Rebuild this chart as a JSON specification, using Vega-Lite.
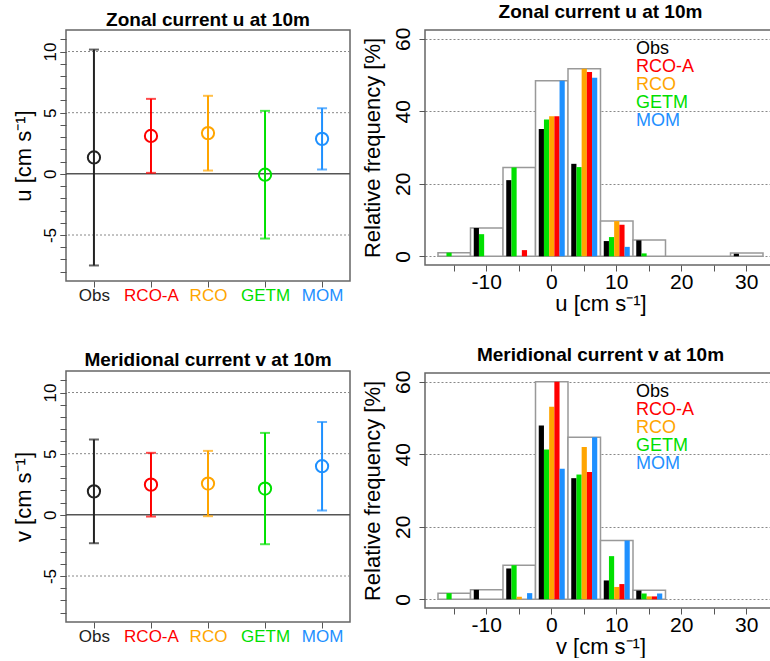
{
  "$schema": "https://vega.github.io/schema/vega-lite/v6.json",
  "padding": {"left": 11, "top": 2, "right": 0, "bottom": 0},
  "background": "white",
  "config": {
    "font": "Liberation Sans",
    "view": {"stroke": "#666666", "strokeWidth": 1.5},
    "title": {"fontSize": 19, "fontWeight": "bold", "font": "Liberation Sans", "color": "#000000", "frame": "group", "anchor": "middle"},
    "axis": {"domain": false, "tickColor": "#555555", "tickWidth": 1, "tickSize": 6, "titleColor": "#000000", "titleFontWeight": "normal", "labelFont": "Liberation Sans", "titleFont": "Liberation Sans", "labelOverlap": false}
  },
  "datasets": {
    "stats": [
      {"var": "u", "model": "Obs", "mean": 1.34, "lo": -7.49, "hi": 10.16},
      {"var": "u", "model": "RCO-A", "mean": 3.1, "lo": 0.08, "hi": 6.13},
      {"var": "u", "model": "RCO", "mean": 3.33, "lo": 0.27, "hi": 6.38},
      {"var": "u", "model": "GETM", "mean": -0.07, "lo": -5.29, "hi": 5.15},
      {"var": "u", "model": "MOM", "mean": 2.86, "lo": 0.35, "hi": 5.37},
      {"var": "v", "model": "Obs", "mean": 1.92, "lo": -2.32, "hi": 6.16},
      {"var": "v", "model": "RCO-A", "mean": 2.47, "lo": -0.14, "hi": 5.07},
      {"var": "v", "model": "RCO", "mean": 2.56, "lo": -0.11, "hi": 5.23},
      {"var": "v", "model": "GETM", "mean": 2.15, "lo": -2.4, "hi": 6.7},
      {"var": "v", "model": "MOM", "mean": 3.98, "lo": 0.35, "hi": 7.6}
    ],
    "box": [
      {"var": "u", "bin": -15, "pct": 1.0},
      {"var": "u", "bin": -10, "pct": 7.8},
      {"var": "u", "bin": -5, "pct": 24.5},
      {"var": "u", "bin": 0, "pct": 48.4},
      {"var": "u", "bin": 5, "pct": 51.7},
      {"var": "u", "bin": 10, "pct": 9.7},
      {"var": "u", "bin": 15, "pct": 4.5},
      {"var": "u", "bin": 20, "pct": 0},
      {"var": "u", "bin": 25, "pct": 0},
      {"var": "u", "bin": 30, "pct": 0.9},
      {"var": "v", "bin": -15, "pct": 1.7},
      {"var": "v", "bin": -10, "pct": 2.6},
      {"var": "v", "bin": -5, "pct": 9.4},
      {"var": "v", "bin": 0, "pct": 60},
      {"var": "v", "bin": 5, "pct": 44.7},
      {"var": "v", "bin": 10, "pct": 16.2},
      {"var": "v", "bin": 15, "pct": 2.5}
    ],
    "hist": [
      {"var": "u", "bin": -15, "model": "GETM", "pct": 1.0},
      {"var": "u", "bin": -10, "model": "Obs", "pct": 7.8},
      {"var": "u", "bin": -10, "model": "GETM", "pct": 6.1},
      {"var": "u", "bin": -5, "model": "Obs", "pct": 21.0},
      {"var": "u", "bin": -5, "model": "GETM", "pct": 24.5},
      {"var": "u", "bin": -5, "model": "RCO-A", "pct": 1.7},
      {"var": "u", "bin": 0, "model": "Obs", "pct": 35.1},
      {"var": "u", "bin": 0, "model": "GETM", "pct": 37.7},
      {"var": "u", "bin": 0, "model": "RCO", "pct": 38.6},
      {"var": "u", "bin": 0, "model": "RCO-A", "pct": 38.6},
      {"var": "u", "bin": 0, "model": "MOM", "pct": 48.4},
      {"var": "u", "bin": 5, "model": "Obs", "pct": 25.5},
      {"var": "u", "bin": 5, "model": "GETM", "pct": 24.6},
      {"var": "u", "bin": 5, "model": "RCO", "pct": 51.7},
      {"var": "u", "bin": 5, "model": "RCO-A", "pct": 50.8},
      {"var": "u", "bin": 5, "model": "MOM", "pct": 49.2},
      {"var": "u", "bin": 10, "model": "Obs", "pct": 4.2},
      {"var": "u", "bin": 10, "model": "GETM", "pct": 5.3},
      {"var": "u", "bin": 10, "model": "RCO", "pct": 9.7},
      {"var": "u", "bin": 10, "model": "RCO-A", "pct": 8.7},
      {"var": "u", "bin": 10, "model": "MOM", "pct": 2.6},
      {"var": "u", "bin": 15, "model": "Obs", "pct": 4.4},
      {"var": "u", "bin": 15, "model": "GETM", "pct": 0.8},
      {"var": "u", "bin": 30, "model": "Obs", "pct": 0.7},
      {"var": "v", "bin": -15, "model": "GETM", "pct": 1.7},
      {"var": "v", "bin": -10, "model": "Obs", "pct": 2.6},
      {"var": "v", "bin": -5, "model": "Obs", "pct": 8.5},
      {"var": "v", "bin": -5, "model": "GETM", "pct": 9.4},
      {"var": "v", "bin": -5, "model": "RCO", "pct": 0.7},
      {"var": "v", "bin": -5, "model": "MOM", "pct": 1.7},
      {"var": "v", "bin": 0, "model": "Obs", "pct": 47.9},
      {"var": "v", "bin": 0, "model": "GETM", "pct": 41.3},
      {"var": "v", "bin": 0, "model": "RCO", "pct": 53.1},
      {"var": "v", "bin": 0, "model": "RCO-A", "pct": 60.0},
      {"var": "v", "bin": 0, "model": "MOM", "pct": 36.0},
      {"var": "v", "bin": 5, "model": "Obs", "pct": 33.4},
      {"var": "v", "bin": 5, "model": "GETM", "pct": 34.4},
      {"var": "v", "bin": 5, "model": "RCO", "pct": 42.0},
      {"var": "v", "bin": 5, "model": "RCO-A", "pct": 35.1},
      {"var": "v", "bin": 5, "model": "MOM", "pct": 44.7},
      {"var": "v", "bin": 10, "model": "Obs", "pct": 5.2},
      {"var": "v", "bin": 10, "model": "GETM", "pct": 11.9},
      {"var": "v", "bin": 10, "model": "RCO", "pct": 3.4},
      {"var": "v", "bin": 10, "model": "RCO-A", "pct": 4.2},
      {"var": "v", "bin": 10, "model": "MOM", "pct": 16.2},
      {"var": "v", "bin": 15, "model": "Obs", "pct": 2.4},
      {"var": "v", "bin": 15, "model": "GETM", "pct": 1.6},
      {"var": "v", "bin": 15, "model": "RCO", "pct": 0.8},
      {"var": "v", "bin": 15, "model": "RCO-A", "pct": 0.8},
      {"var": "v", "bin": 15, "model": "MOM", "pct": 1.6}
    ]
  },
  "resolve": {"scale": {"color": "independent", "x": "independent", "y": "independent", "xOffset": "independent"}, "legend": {"color": "independent"}},
  "spacing": 8,
  "hconcat": [
    {
      "spacing": 46,
      "resolve": {"scale": {"color": "independent", "x": "independent", "y": "independent"}, "legend": {"color": "independent"}},
      "vconcat": [
        {
          "width": 284, "height": 251,
          "title": {"text": "Zonal current u at 10m", "offset": 0},
          "data": {"name": "stats"},
          "transform": [{"filter": "datum.var === 'u'"}],
          "resolve": {"axis": {"y": "independent"}},
          "layer": [
            {
              "layer": [
                {"data": {"values": [{}]}, "mark": {"type": "rule", "strokeDash": [2, 2], "color": "#888888", "strokeWidth": 1}, "encoding": {"y": {"datum": -5}}},
                {"data": {"values": [{}]}, "mark": {"type": "rule", "strokeDash": [2, 2], "color": "#888888", "strokeWidth": 1}, "encoding": {"y": {"datum": 5}}},
                {"data": {"values": [{}]}, "mark": {"type": "rule", "strokeDash": [2, 2], "color": "#888888", "strokeWidth": 1}, "encoding": {"y": {"datum": 10}}},
                {"data": {"values": [{}]}, "mark": {"type": "rule", "color": "#555555", "strokeWidth": 1.5}, "encoding": {"y": {"datum": 0}}},
                {"mark": {"type": "rule", "strokeWidth": 2},
                 "encoding": {
                   "x": {"field": "model", "type": "nominal", "scale": {"type": "point", "domain": ["Obs", "RCO-A", "RCO", "GETM", "MOM"], "padding": 0.49},
                     "axis": {"title": null, "labelAngle": 0, "labelFontSize": 17, "labelPadding": 0, "grid": false,
                       "labelColor": {"expr": "datum.value === 'Obs' ? '#222222' : datum.value === 'RCO-A' ? '#ff0000' : datum.value === 'RCO' ? '#ffa500' : datum.value === 'GETM' ? '#00e000' : '#1e90ff'"}}},
                   "color": {"field": "model", "type": "nominal", "scale": {"domain": ["Obs", "RCO-A", "RCO", "GETM", "MOM"], "range": ["#222222", "#ff0000", "#ffa500", "#00e000", "#1e90ff"]}, "legend": null},
                   "y": {"field": "lo", "type": "quantitative", "title": "u [cm s⁻¹]", "scale": {"domain": [-8.76, 11.76], "nice": false, "zero": false},
                     "axis": {"values": [-5, 0, 5, 10], "labelExpr": "'' + datum.value", "labelOverlap": false, "labelFontSize": 17,
                       "labelAngle": -90, "labelColor": "#000000", "labelPadding": 1, "titleFontSize": 22, "titlePadding": 6, "grid": false}},
                   "y2": {"field": "hi"}}},
                {"mark": {"type": "tick", "orient": "horizontal", "size": 10, "thickness": 2},
                 "encoding": {"x": {"field": "model", "type": "nominal"}, "color": {"field": "model", "type": "nominal", "legend": null}, "y": {"field": "lo", "type": "quantitative", "title": "u [cm s⁻¹]"}}},
                {"mark": {"type": "tick", "orient": "horizontal", "size": 10, "thickness": 2},
                 "encoding": {"x": {"field": "model", "type": "nominal"}, "color": {"field": "model", "type": "nominal", "legend": null}, "y": {"field": "hi", "type": "quantitative", "title": "u [cm s⁻¹]"}}},
                {"mark": {"type": "point", "shape": "circle", "size": 150, "strokeWidth": 2, "filled": false, "opacity": 1},
                 "encoding": {"x": {"field": "model", "type": "nominal"}, "color": {"field": "model", "type": "nominal", "legend": null}, "y": {"field": "mean", "type": "quantitative", "title": "u [cm s⁻¹]"}}}
              ]
            },
            {"data": {"values": [{}]}, "mark": {"type": "rule", "opacity": 0},
             "encoding": {"y": {"datum": 0, "axis": {"orient": "left", "values": [-8, -7, -6, -5, -4, -3, -2, -1, 0, 1, 2, 3, 4, 5, 6, 7, 8, 9, 10, 11], "labels": false, "title": null, "grid": false, "tickSize": 6, "domain": false}}}}
          ]
        },
        {
          "width": 284, "height": 251,
          "title": {"text": "Meridional current v at 10m", "offset": 1},
          "data": {"name": "stats"},
          "transform": [{"filter": "datum.var === 'v'"}],
          "resolve": {"axis": {"y": "independent"}},
          "layer": [
            {
              "layer": [
                {"data": {"values": [{}]}, "mark": {"type": "rule", "strokeDash": [2, 2], "color": "#888888", "strokeWidth": 1}, "encoding": {"y": {"datum": -5}}},
                {"data": {"values": [{}]}, "mark": {"type": "rule", "strokeDash": [2, 2], "color": "#888888", "strokeWidth": 1}, "encoding": {"y": {"datum": 5}}},
                {"data": {"values": [{}]}, "mark": {"type": "rule", "strokeDash": [2, 2], "color": "#888888", "strokeWidth": 1}, "encoding": {"y": {"datum": 10}}},
                {"data": {"values": [{}]}, "mark": {"type": "rule", "color": "#555555", "strokeWidth": 1.5}, "encoding": {"y": {"datum": 0}}},
                {"mark": {"type": "rule", "strokeWidth": 2},
                 "encoding": {
                   "x": {"field": "model", "type": "nominal", "scale": {"type": "point", "domain": ["Obs", "RCO-A", "RCO", "GETM", "MOM"], "padding": 0.49},
                     "axis": {"title": null, "labelAngle": 0, "labelFontSize": 17, "labelPadding": 0, "grid": false,
                       "labelColor": {"expr": "datum.value === 'Obs' ? '#222222' : datum.value === 'RCO-A' ? '#ff0000' : datum.value === 'RCO' ? '#ffa500' : datum.value === 'GETM' ? '#00e000' : '#1e90ff'"}}},
                   "color": {"field": "model", "type": "nominal", "scale": {"domain": ["Obs", "RCO-A", "RCO", "GETM", "MOM"], "range": ["#222222", "#ff0000", "#ffa500", "#00e000", "#1e90ff"]}, "legend": null},
                   "y": {"field": "lo", "type": "quantitative", "title": "v [cm s⁻¹]", "scale": {"domain": [-8.76, 11.76], "nice": false, "zero": false},
                     "axis": {"values": [-5, 0, 5, 10], "labelExpr": "'' + datum.value", "labelOverlap": false, "labelFontSize": 17,
                       "labelAngle": -90, "labelColor": "#000000", "labelPadding": 1, "titleFontSize": 22, "titlePadding": 6, "grid": false}},
                   "y2": {"field": "hi"}}},
                {"mark": {"type": "tick", "orient": "horizontal", "size": 10, "thickness": 2},
                 "encoding": {"x": {"field": "model", "type": "nominal"}, "color": {"field": "model", "type": "nominal", "legend": null}, "y": {"field": "lo", "type": "quantitative", "title": "v [cm s⁻¹]"}}},
                {"mark": {"type": "tick", "orient": "horizontal", "size": 10, "thickness": 2},
                 "encoding": {"x": {"field": "model", "type": "nominal"}, "color": {"field": "model", "type": "nominal", "legend": null}, "y": {"field": "hi", "type": "quantitative", "title": "v [cm s⁻¹]"}}},
                {"mark": {"type": "point", "shape": "circle", "size": 150, "strokeWidth": 2, "filled": false, "opacity": 1},
                 "encoding": {"x": {"field": "model", "type": "nominal"}, "color": {"field": "model", "type": "nominal", "legend": null}, "y": {"field": "mean", "type": "quantitative", "title": "v [cm s⁻¹]"}}}
              ]
            },
            {"data": {"values": [{}]}, "mark": {"type": "rule", "opacity": 0},
             "encoding": {"y": {"datum": 0, "axis": {"orient": "left", "values": [-8, -7, -6, -5, -4, -3, -2, -1, 0, 1, 2, 3, 4, 5, 6, 7, 8, 9, 10, 11], "labels": false, "title": null, "grid": false, "tickSize": 6, "domain": false}}}}
          ]
        }
      ]
    },
    {
      "spacing": 30,
      "resolve": {"scale": {"color": "independent", "x": "independent", "y": "independent", "xOffset": "independent"}, "legend": {"color": "independent"}},
      "vconcat": [
        {
          "width": 351, "height": 235,
          "title": {"text": "Zonal current u at 10m", "offset": 5},
          "layer": [
            {"data": {"name": "box"}, "transform": [{"filter": "datum.var === 'u'"}],
             "mark": {"type": "bar", "fill": "white", "stroke": "#999999", "strokeWidth": 1.5},
             "encoding": {
               "x": {"field": "bin", "type": "ordinal", "title": "u [cm s⁻¹]", "scale": {"domain": [-15, -10, -5, 0, 5, 10, 15, 20, 25, 30], "paddingInner": 0, "paddingOuter": 0.4},
                 "axis": {"labelExpr": "datum.value % 10 === 0 ? '' + datum.value : ''", "labelAngle": 0, "labelFontSize": 21, "labelColor": "#000000", "labelPadding": 0, "titleFontSize": 22, "titlePadding": 1, "grid": false}},
               "y": {"field": "pct", "type": "quantitative", "title": "Relative frequency [%]", "scale": {"domain": [-2.4, 62.4], "nice": false, "zero": false},
                 "axis": {"values": [0, 10, 20, 30, 40, 50, 60], "labelExpr": "datum.value % 20 === 0 ? '' + datum.value : ''", "labelAngle": -90, "labelFontSize": 21, "labelColor": "#000000", "labelPadding": 6, "titleFontSize": 22, "titlePadding": 8, "grid": true, "gridDash": [2, 2], "gridColor": "#888888", "gridWidth": 1}},
               "y2": {"datum": 0}}},
            {"data": {"name": "hist"}, "transform": [{"filter": "datum.var === 'u'"}],
             "mark": {"type": "bar"},
             "encoding": {
               "x": {"field": "bin", "type": "ordinal", "title": "u [cm s⁻¹]"},
               "xOffset": {"field": "model", "type": "nominal", "scale": {"domain": ["Obs", "GETM", "RCO", "RCO-A", "MOM"], "paddingInner": 0, "paddingOuter": 0.625}},
               "y": {"field": "pct", "type": "quantitative", "title": "Relative frequency [%]"},
               "y2": {"datum": 0},
               "color": {"field": "model", "type": "nominal", "scale": {"domain": ["Obs", "RCO-A", "RCO", "GETM", "MOM"], "range": ["#000000", "#ff0000", "#ffa500", "#00e000", "#1e90ff"]},
                 "legend": {"orient": "none", "legendX": 193, "legendY": 10, "title": null, "symbolOpacity": 0, "symbolSize": 0, "symbolStrokeWidth": 0, "labelOffset": 0, "labelFontSize": 18, "rowPadding": 0, "labelFont": "Liberation Sans",
                   "labelColor": {"expr": "datum.value === 'Obs' ? '#000000' : datum.value === 'RCO-A' ? '#ff0000' : datum.value === 'RCO' ? '#ffa500' : datum.value === 'GETM' ? '#00e000' : '#1e90ff'"}}}}}
          ]
        },
        {
          "width": 351, "height": 235,
          "title": {"text": "Meridional current v at 10m", "offset": 5},
          "layer": [
            {"data": {"name": "box"}, "transform": [{"filter": "datum.var === 'v'"}],
             "mark": {"type": "bar", "fill": "white", "stroke": "#999999", "strokeWidth": 1.5},
             "encoding": {
               "x": {"field": "bin", "type": "ordinal", "title": "v [cm s⁻¹]", "scale": {"domain": [-15, -10, -5, 0, 5, 10, 15, 20, 25, 30], "paddingInner": 0, "paddingOuter": 0.4},
                 "axis": {"labelExpr": "datum.value % 10 === 0 ? '' + datum.value : ''", "labelAngle": 0, "labelFontSize": 21, "labelColor": "#000000", "labelPadding": 0, "titleFontSize": 22, "titlePadding": 1, "grid": false}},
               "y": {"field": "pct", "type": "quantitative", "title": "Relative frequency [%]", "scale": {"domain": [-2.4, 62.4], "nice": false, "zero": false},
                 "axis": {"values": [0, 10, 20, 30, 40, 50, 60], "labelExpr": "datum.value % 20 === 0 ? '' + datum.value : ''", "labelAngle": -90, "labelFontSize": 21, "labelColor": "#000000", "labelPadding": 6, "titleFontSize": 22, "titlePadding": 8, "grid": true, "gridDash": [2, 2], "gridColor": "#888888", "gridWidth": 1}},
               "y2": {"datum": 0}}},
            {"data": {"name": "hist"}, "transform": [{"filter": "datum.var === 'v'"}],
             "mark": {"type": "bar"},
             "encoding": {
               "x": {"field": "bin", "type": "ordinal", "title": "v [cm s⁻¹]"},
               "xOffset": {"field": "model", "type": "nominal", "scale": {"domain": ["Obs", "GETM", "RCO", "RCO-A", "MOM"], "paddingInner": 0, "paddingOuter": 0.625}},
               "y": {"field": "pct", "type": "quantitative", "title": "Relative frequency [%]"},
               "y2": {"datum": 0},
               "color": {"field": "model", "type": "nominal", "scale": {"domain": ["Obs", "RCO-A", "RCO", "GETM", "MOM"], "range": ["#000000", "#ff0000", "#ffa500", "#00e000", "#1e90ff"]},
                 "legend": {"orient": "none", "legendX": 193, "legendY": 10, "title": null, "symbolOpacity": 0, "symbolSize": 0, "symbolStrokeWidth": 0, "labelOffset": 0, "labelFontSize": 18, "rowPadding": 0, "labelFont": "Liberation Sans",
                   "labelColor": {"expr": "datum.value === 'Obs' ? '#000000' : datum.value === 'RCO-A' ? '#ff0000' : datum.value === 'RCO' ? '#ffa500' : datum.value === 'GETM' ? '#00e000' : '#1e90ff'"}}}}}
          ]
        }
      ]
    }
  ]
}
